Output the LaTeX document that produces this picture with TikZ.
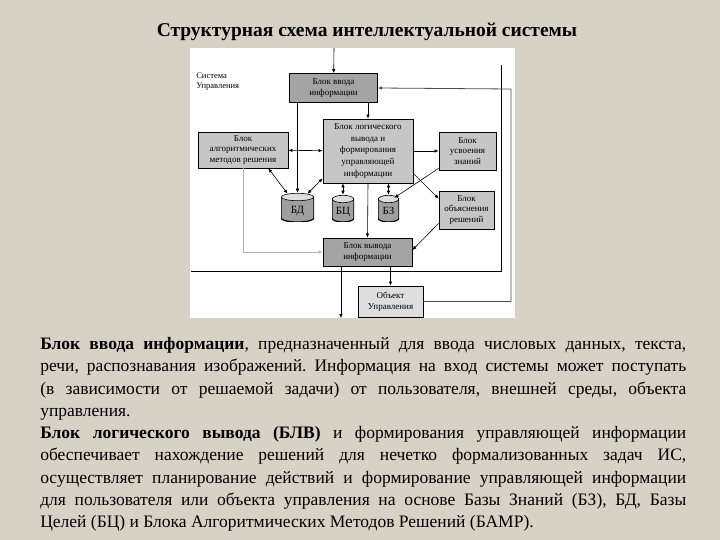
\documentclass[tikz,border=0pt]{standalone}
\usepackage{fontspec}
\setmainfont{Liberation Serif}
\usetikzlibrary{arrows.meta}
\definecolor{slidebg}{RGB}{216,209,198}
\definecolor{boxdark}{RGB}{164,164,164}
\definecolor{boxlight}{RGB}{198,198,198}
\definecolor{boxpale}{RGB}{222,222,222}
\newcommand{\dblabel}[1]{\raisebox{-6pt}[0pt][0pt]{#1}}
\tikzset{
  blk/.style={draw, rectangle, align=center, inner sep=1pt, line width=0.8pt,
    font=\fontsize{9}{10.5}\selectfont},
  dbase/.style 2 args={rectangle, inner sep=0pt, minimum width=#1, minimum height=#2,
    font=\fontsize{11}{12}\selectfont,
    path picture={
      \fill[gray!75] ([yshift=-4pt]path picture bounding box.north west) rectangle ([yshift=4pt]path picture bounding box.south east);
      \fill[gray!75] ([yshift=4pt]path picture bounding box.south) ellipse [x radius=0.5*#1, y radius=4pt];
      \draw[line width=1.2pt] ([yshift=-4pt]path picture bounding box.north west) -- ([yshift=4pt]path picture bounding box.south west)
        arc [start angle=180, end angle=360, x radius=0.5*#1, y radius=4pt] -- ([yshift=-4pt]path picture bounding box.north east);
      \draw[line width=0.6pt, fill=gray!25] ([yshift=-4pt]path picture bounding box.north) ellipse [x radius=0.5*#1-0.3pt, y radius=3.7pt];
    }},
}
\begin{document}
\begin{tikzpicture}[x=1pt, y=-1pt, >={Latex[length=4pt,width=3.5pt]}, line width=0.6pt]
\useasboundingbox (0,0) rectangle (720,540);
\fill[slidebg] (0,0) rectangle (720,540);
\fill[white] (190,48) rectangle (515,318);
\node[font=\bfseries\fontsize{19.5}{22}\selectfont] (title) at (367,32) {Структурная схема интеллектуальной системы};

% diagram
\node[anchor=north west, align=left, inner sep=0pt, font=\fontsize{8.5}{10}\selectfont] (sys) at (196,73) {Система\\Управления};
\node[blk, fill=boxdark, minimum width=88pt, minimum height=29pt] (vvod) at (333.5,88) {Блок ввода\\информации};
\node[blk, fill=boxlight, minimum width=90pt, minimum height=64pt, font=\fontsize{9}{11.8}\selectfont] (logic) at (368,151) {Блок логического\\вывода и\\формирования\\управляющей\\информации};
\node[blk, fill=boxlight, minimum width=90pt, minimum height=36pt] (bamr) at (243,150) {Блок\\алгоритмических\\методов решения};
\node[blk, fill=boxlight, minimum width=57pt, minimum height=38pt] (usv) at (467.5,151) {Блок\\усвоения\\знаний};
\node[blk, fill=boxlight, minimum width=55pt, minimum height=38pt] (obyasn) at (466.5,210) {Блок\\объяснения\\решений};
\node[blk, fill=boxdark, minimum width=89pt, minimum height=28pt] (vyvod) at (367.5,252) {Блок вывода\\информации};
\node[blk, fill=boxpale, minimum width=65pt, minimum height=31pt] (obj) at (390.5,301.5) {Объект\\Управления};
\node[dbase={33pt}{29pt}] (bd) at (297.5,207.5) {\dblabel{БД}};
\node[dbase={22pt}{27pt}] (bc) at (343,208.5) {\dblabel{БЦ}};
\node[dbase={21pt}{27pt}] (bz) at (388.5,208.5) {\dblabel{БЗ}};
\coordinate (inTop) at (334,48);
\coordinate (outBot) at (341,318);
\coordinate (fbCorner) at (511,89);

\draw[line width=0.8pt] (501,65) -- (501,271) -- (191,271);
\draw[->] (inTop) -- (vvod);
\draw[->] (vvod.south -| logic) -- (logic.north);
\draw[->] (vvod.south -| bd) -- (bd.north);
\draw[<->] (bamr) -- (logic);
\draw[->] (logic) -- (usv);
\draw[<->] ([xshift=-20pt]bamr.south east) -- ([xshift=-10pt,yshift=-1pt]bd.north);
\draw[<->] ([yshift=5pt]logic.south west) -- ([xshift=10pt,yshift=-1pt]bd.north);
\draw[<->] (logic.south -| bc) -- (bc.north);
\draw[<->] (logic.south -| bz) -- (bz.north);
\draw[->] ([yshift=2pt]usv.south west) -- ([xshift=6pt,yshift=-3pt]bz.north);
\draw[->] ([yshift=10pt]logic.south east) -- ([yshift=-8pt]obyasn.north west);
\draw[->] ([yshift=6pt]obyasn.south west) -- ([yshift=2pt]vyvod.east);
\draw[->] (logic.south) -- (vyvod.north);
\draw[->, gray!60] (bamr.south) |- (vyvod.west);
\draw[->] (vyvod.south -| obj) -- (obj.north);
\draw[->] (vyvod.south -| outBot) -- (outBot);
\draw[->, gray!60!black, line width=0.8pt] (obj.east) -| (fbCorner) -- (vvod.east);

% text
\node[anchor=north west, text width=646pt, align=justify, inner sep=0pt,
  font=\fontsize{17.5}{22.3}\selectfont] (desc) at (40,337) {\parindent=0pt\frenchspacing
\textbf{Блок ввода информации}, предназначенный для ввода числовых данных, текста,\linebreak
речи, распознавания изображений. Информация на вход системы может поступать\linebreak
(в зависимости от решаемой задачи) от пользователя, внешней среды, объекта\linebreak
управления.\par
\textbf{Блок логического вывода (БЛВ)} и формирования управляющей информации\linebreak
обеспечивает нахождение решений для нечетко формализованных задач ИС,\linebreak
осуществляет планирование действий и формирование управляющей информации\linebreak
для пользователя или объекта управления на основе Базы Знаний (БЗ), БД, Базы\linebreak
Целей (БЦ) и Блока Алгоритмических Методов Решений (БАМР).};
\end{tikzpicture}
\end{document}
